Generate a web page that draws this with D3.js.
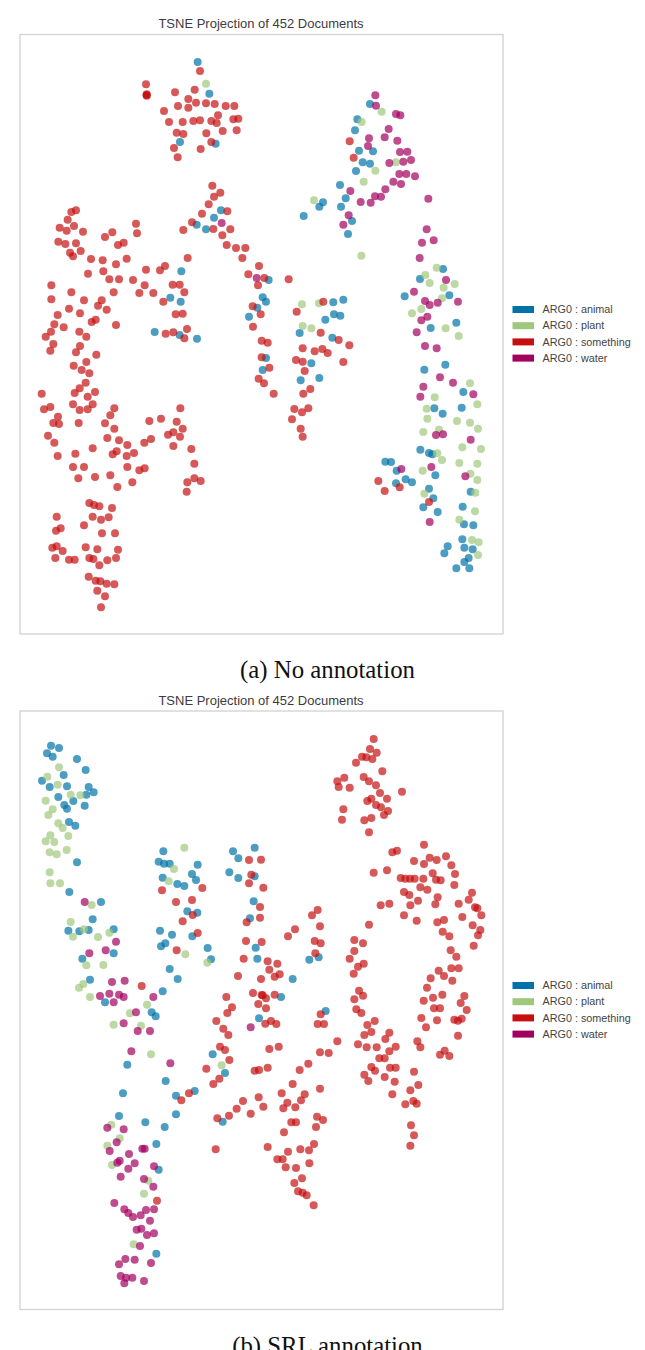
<!DOCTYPE html>
<html><head><meta charset="utf-8">
<script src="https://cdnjs.cloudflare.com/ajax/libs/d3/7.8.5/d3.min.js"></script>
<style>html,body{margin:0;padding:0;background:#fff;overflow:hidden}svg{display:block}</style>
</head><body><svg id="c" width="645" height="1350"><defs><filter id="soft" x="-2%" y="-2%" width="104%" height="104%"><feGaussianBlur stdDeviation="0.4"/></filter></defs></svg>
<script>
const titleText = "TSNE Projection of 452 Documents";
const categories = ["ARG0 : animal","ARG0 : plant","ARG0 : something","ARG0 : water"];
const captions = ["(a) No annotation","(b) SRL annotation"];

const animalA = [[533,81],[568,176],[480,321],[587,326],[603,526],[582,548],[530,569],[558,583],[484,709],[451,788],[482,800],[404,891],[479,900],[712,818],[687,845],[531,911],
[1050,207],[1012,253],[1005,286],[1017,347],[1059,349],[1028,382],[1050,386],[1008,408],[960,450],[977,490],[909,502],[898,515],[963,515],[851,543],[996,558],[984,597],[1269,702],[1200,732],[1154,784],[1288,781],[1309,863],[1232,879],[746,735],[728,787],[738,800],[970,794],[940,802],[942,838],[961,842],[916,854],[839,894],
[937,908],[738,969],[874,985],[728,1005],[898,1029],[842,1036],[1213,1004],[1276,989],[1330,1071],[1243,1120],[1325,1118],[1268,1136],[1201,1244],[1227,1254],[1237,1258],[1096,1280],[1113,1281],[1130,1307],[1246,1321],[1157,1333],[1176,1342],[1128,1345],[1227,1361],[1240,1390],[1210,1417],[1328,1415],[1253,1431],[1352,1370],[1332,1468],[1360,1471],[1327,1513],[1283,1534],[1333,1538],[1358,1543],[1273,1555],[1346,1569],[1333,1581],[1309,1600],[1348,1600]];

const plantA = [[558,146],[1085,230],[1025,261],[1128,382],[1066,407],[1031,440],[882,496],[1024,662],[1250,698],[1216,720],[1229,744],[1304,747],[1271,758],[1266,790],[1204,822],[1176,835],[1277,880],[1316,903],[846,808],[897,805],[848,873],[874,880],
[1350,1045],[1244,1087],[1372,1108],[1220,1121],[1222,1151],[1311,1158],[1350,1163],[1374,1181],[1210,1191],[1257,1184],[1327,1237],[1383,1242],[1252,1255],[1266,1275],[1318,1284],[1372,1286],[1208,1307],[1351,1316],[1372,1335],[1213,1376],[1366,1373],[1365,1429],[1318,1454],[1356,1515],[1376,1522],[1374,1560]];

const somethingA = [[540,108],[378,148],[380,178],[380,182],[380,180],[465,172],[524,164],[505,192],[528,203],[474,213],[505,218],[558,205],[584,207],[617,213],[643,213],[432,228],[594,241],[447,261],[488,261],[520,258],[540,256],[574,258],[590,264],[640,253],[655,251],[470,293],[490,297],[559,295],[608,288],[650,286],[574,321],[462,339],[542,342],[473,367],
[577,452],[601,473],[582,485],[566,508],[622,529],[546,536],[516,562],[490,585],[580,582],[631,583],[607,601],[620,630],[648,639],[676,639],[667,669],[717,693],[685,718],[733,729],[714,751],[698,814],[699,875],[722,838],
[168,526],[154,531],[143,554],[162,573],[119,578],[140,587],[189,590],[348,566],[277,592],[255,606],[351,595],[115,620],[136,627],[168,625],[311,623],[294,630],[182,648],[150,653],[159,664],[213,672],[248,676],[320,671],[503,669],[288,688],[435,693],[420,706],[378,704],[250,709],[204,716],[268,733],[297,733],[339,735],[458,749],[479,749],[374,751],[94,751],[154,772],[281,772],[358,774],[400,774],[493,772],[94,793],[192,796],[245,796],[234,812],[430,800],[147,821],[260,824],[180,835],[467,838],[488,836],[113,840],[227,854],[215,861],[103,868],[288,870],[131,877],[178,890],[93,890],[199,905],[437,896],[460,892],[501,882],[493,910],
[989,319],[1001,368],[806,733],[910,800],[830,830],[902,893],
[77,905],[100,927],[180,933],[91,947],[168,952],[229,959],[199,981],[161,992],[185,1005],[208,1015],[197,1043],[179,1060],[164,1074],[225,1071],[65,1076],[203,1085],[159,1108],[218,1108],[91,1116],[72,1123],[179,1125],[203,1123],[283,1120],[271,1141],[114,1145],[100,1164],[117,1167],[176,1164],[255,1165],[283,1181],[481,1120],[423,1151],[388,1158],[470,1160],[488,1181],[460,1192],[444,1199],[480,1205],[84,1202],[103,1223],[262,1209],[297,1216],[393,1212],[373,1223],[322,1230],[460,1233],[218,1240],[514,1242],[290,1249],[278,1258],[342,1254],[320,1263],[166,1256],[113,1263],[523,1286],[159,1296],[192,1296],[322,1296],[374,1300],[358,1306],[175,1330],[225,1326],[271,1321],[337,1342],[502,1342],[523,1330],[542,1338],[292,1356],[500,1370],
[208,1404],[222,1410],[238,1414],[276,1419],[110,1445],[218,1445],[243,1454],[266,1447],[192,1471],[122,1480],[108,1487],[246,1495],[285,1495],[97,1538],[110,1534],[128,1548],[197,1537],[232,1543],[294,1544],[106,1569],[147,1574],[164,1574],[208,1569],[220,1572],[262,1576],[288,1569],[238,1591],[206,1625],[227,1637],[241,1639],[260,1646],[283,1648],[232,1667],[255,1684],[243,1717],
[956,915],[988,931],[743,923],[725,917],[848,940],[884,949],[907,942],[923,954],[725,967],[828,975],[848,980],[970,981],[748,998],[854,1008],[716,1031],[732,1045],[761,1076],[871,1062],[850,1076],[823,1122],[865,1120],[846,1132],[816,1153],[842,1181],[848,1205],[1075,1338],[1094,1368],[1139,1357],[1227,1401]];

const waterA = [[605,564],[710,729],
[1066,181],[1068,212],[1128,237],[1141,241],[1106,282],[1094,307],[1047,310],[1132,317],[1044,333],[1140,351],[1162,350],[1173,375],[1150,380],[1108,384],[1138,417],[1159,417],[1185,424],[1120,440],[1143,447],[1096,463],[991,468],[1065,484],[1083,485],[1022,501],[1052,503],[1225,491],[986,541],[970,569],[1220,583],[1241,616],[1206,623],[1199,669],[1278,735],[1182,770],[1215,798],[1229,810],[1253,803],[1314,800],[1222,845],[1204,856],[1190,892],
[1215,933],[1250,940],[1260,1027],[1210,1055],[1299,1043],[1360,1078],[1201,1085],[1248,1200],[1269,1198],[1352,1214],[1144,1302],[1234,1296],[1336,1324],[1229,1461]];

const animalB = [[93,107],[117,114],[81,130],[98,140],[171,147],[197,180],[131,195],[66,212],[89,231],[141,229],[206,231],[221,247],[199,254],[115,261],[160,273],[133,285],[141,296],[194,287],[147,336],[166,347],[171,457],[148,546],[243,576],[218,628],[145,662],[178,664],[206,660],[281,658],[187,746],[281,730],[210,809],[255,877],[430,424],[416,455],[432,461],[449,461],[533,464],[516,492],[428,503],[528,510],[472,522],[493,528],[502,604],[532,608],[420,662],[456,674],[517,679],[436,700],[423,709],[563,714],[573,748],[449,777],[473,807],[428,844],[639,424],[704,413],[655,445],[628,487],[655,504],[704,499],[701,574],[690,625],[707,713],[712,746],
[868,749],[896,742],[818,807],[783,861],
[395,907],[407,919],[322,1064],[437,1113],[309,1150],[468,1157],[524,1143],[297,1218],[468,1213],[376,1237],[434,1251],[409,1302],[416,1379],[409,1631],[578,1033],[615,1089],[608,1235],[717,925],[917,903]];

const plantB = [[117,172],[82,200],[113,224],[152,254],[181,256],[77,272],[98,298],[85,315],[115,340],[128,354],[145,378],[91,376],[77,394],[103,396],[140,420],[89,427],[110,433],[89,487],[91,520],[120,520],[215,585],[152,636],[192,658],[159,680],[234,681],[268,668],[199,766],[250,765],[190,822],[177,833],[210,861],[381,884],[493,413],[462,477],[446,514],[496,733],[562,758],
[330,910],[281,944],[363,947],[393,1033],[274,1244],[299,1285],[262,1307],[276,1365],[385,1412],[372,1451],[341,1603],[605,1066]];

const somethingB = [[426,541],[547,534],[468,576],[516,570],[518,615],[488,634],[533,669],[470,721],[365,828],
[687,450],[694,494],[687,520],[680,637],[678,693],[671,746],[654,798],[699,849],[619,861],[715,882],[636,892],
[723,449],[730,533],[720,591],[720,623],[725,696],[723,807],[725,855],
[1061,87],[1050,117],[1070,128],[1026,140],[1039,142],[1057,147],[1008,158],[1087,184],[1031,201],[973,203],[952,214],[1047,214],[1068,226],[956,231],[989,233],[1146,245],[1080,249],[1101,266],[1054,266],[1042,273],[1068,285],[1083,292],[1104,303],[970,298],[1092,315],[1054,324],[1033,331],[966,329],[1047,367],
[1212,404],[1131,422],[1117,427],[1278,439],[1229,443],[1250,450],[1182,453],[1212,462],[1294,466],[1061,488],[1101,481],[1238,490],[1305,492],[1142,504],[1156,506],[1170,506],[1184,506],[1210,506],[1248,509],[1262,511],[1201,532],[1222,539],[1303,525],[1152,546],[1168,555],[1356,548],[1253,562],[1346,569],[1194,572],[1108,581],[1082,586],[1171,586],[1246,583],[1316,581],[1365,592],[1372,595],[1384,616],[1152,616],[1327,621],[1190,632],[1252,637],[1272,630],[1047,644],[1358,646],[1268,665],[1381,660],[1374,676],[1288,679],[1361,707],[1292,721],[1309,740],
[893,600],[876,616],[900,649],[825,658],[804,679],[884,693],[902,700],[1003,690],[1029,700],[1003,723],[886,730],[989,746],[1031,761],[1014,770],[1001,791],[743,754],[772,761],[748,779],[779,793],[764,800],[1294,775],[1316,775],[1256,782],[1272,798],[1232,805],[1297,812],[1221,833],[1017,842],[1029,857],[1003,868],[1267,854],[1239,863],[1211,872],[1333,858],[1322,879],[764,854],[738,865],[728,856],[738,895],[1009,898],[1242,895],[1260,895],[1340,900],
[622,909],[589,933],[610,956],[625,975],[600,1010],[615,1020],[628,1050],[559,1076],[704,1082],[717,1080],[598,1106],[580,1122],[484,1171],[507,1150],[716,1162],[669,1173],[650,1196],[692,1211],[627,1217],[592,1225],[587,1318],[411,1472],
[753,933],[736,941],[769,942],[902,913],[893,942],[912,942],[1024,909],[1064,933],[1042,945],[1054,966],[1033,975],[1108,968],[1096,987],[1014,1003],[1040,1012],[1070,1012],[1127,1010],[1108,1024],[952,994],[748,1017],[776,1010],[900,1027],[926,1029],[1078,1045],[1094,1045],[865,1061],[839,1080],[743,1073],[1054,1071],[1065,1082],[1110,1073],[1127,1073],[1182,1085],[1033,1094],[1045,1113],[1094,1101],[1124,1115],[818,1122],[900,1136],[785,1150],[854,1153],[843,1171],[802,1178],[826,1192],[790,1195],[730,1190],[1117,1153],[1171,1141],[1195,1125],[1180,1173],[1190,1181],[1156,1183],[891,1220],[909,1230],[888,1251],[814,1237],[828,1237],[792,1267],[1173,1246],[1182,1276],[1171,1307],[743,1311],[882,1302],[867,1321],[841,1318],[804,1325],[772,1348],[788,1348],[868,1360],[797,1372],[828,1374],[846,1405],[823,1419],[834,1444],[848,1448],[860,1456],[881,1486],
[1204,924],[1251,931],[1218,952],[1303,929],[1314,932],[1325,926],[1314,977],[1192,994],[1201,1012],[1260,1034],[1274,1022],[1288,1038]];

const waterB = [[194,576],[288,695],[257,721],[208,730],[276,816],[314,812],[268,851],[240,858],[297,854],[311,861],[281,877],[400,861],
[348,907],[311,940],[353,963],[390,963],[334,1024],[451,1060],[692,952],[262,1253],[311,1258],[290,1297],[269,1323],[327,1332],[367,1316],[374,1316],[299,1352],[292,1358],[344,1360],[325,1376],[402,1369],[302,1400],[372,1407],[400,1430],[283,1479],[313,1498],[325,1509],[339,1521],[362,1516],[378,1500],[402,1498],[390,1532],[350,1559],[364,1556],[381,1575],[402,1570],[360,1608],[316,1647],[344,1649],[297,1663],[393,1659],[302,1698],[318,1703],[337,1703],[313,1720],[372,1713]];

const colors = ["#0173a8","#a0c87c","#c5100f","#a2005f"];
const seriesA = [animalA, plantA, somethingA, waterA];
const seriesB = [animalB, plantB, somethingB, waterB];

const svg = d3.select("#c");
const x = d3.scaleLinear().domain([0,1449]).range([20,503]);
const color = d3.scaleOrdinal().domain(categories).range(colors);

function panel(series, top, frameTop, frameBottom, caption, captionY, titleY, title, legendY){
  const y = d3.scaleLinear().domain([0,1800]).range([top, top+600]);
  const g = svg.append("g");
  g.append("rect").attr("x",x(0)).attr("y",frameTop).attr("width",x(1449)-x(0)).attr("height",frameBottom-frameTop)
    .attr("fill","#fff").attr("stroke","#d2d2d2").attr("stroke-width",1.3);
  g.append("text").attr("x",261).attr("y",titleY).attr("text-anchor","middle")
    .attr("font-family","Liberation Sans").attr("font-size",13).attr("fill","#3c3c3c").text(title);
  const marks = g.append("g").attr("filter","url(#soft)");
  series.forEach((pts,i)=>{
    marks.append("g").selectAll("circle").data(pts).join("circle")
      .attr("cx",d=>x(d[0])).attr("cy",d=>y(d[1])).attr("r",4)
      .attr("fill",color(categories[i])).attr("fill-opacity",0.7);
  });
  const lg = g.append("g");
  categories.forEach((c,i)=>{
    const ly = legendY + i*16.2;
    lg.append("rect").attr("x",512.5).attr("y",ly-3.5).attr("width",21.5).attr("height",7).attr("fill",color(c));
    lg.append("text").attr("x",542.5).attr("y",ly+3.7).attr("font-family","Liberation Sans")
      .attr("font-size",10.8).attr("fill","#444").text(c);
  });
  g.append("text").attr("x",327.5).attr("y",captionY).attr("text-anchor","middle")
    .attr("font-family","Liberation Serif").attr("font-size",24.8).attr("fill","#111").text(caption);
}
panel(seriesA,35,34.5,634,captions[0],678,28,titleText,309.5);
panel(seriesB,710,711,1309.5,captions[1],1354,705,titleText,985.5);
</script></body></html>
